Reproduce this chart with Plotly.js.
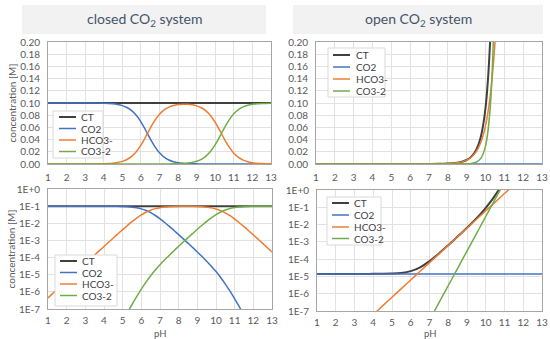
<!DOCTYPE html>
<html><head><meta charset="utf-8">
<script src="https://cdn.plot.ly/plotly-3.0.1.min.js"></script>
<style>html,body{margin:0;padding:0;background:#fff}#chart{width:550px;height:339px}</style>
</head><body><div id="chart"></div>
<script>
// ---------- data ----------
const seriesNames = ["CT", "CO2", "HCO3-", "CO3-2"];
const seriesColors = ["#404040", "#4472c4", "#ed7d31", "#70ad47"];
const panelTitles = ["closed CO<sub>2</sub> system", "open CO<sub>2</sub> system"];
const yTitle = "concentration [M]";
const xTitle = "pH";
const pHTicks = [1,2,3,4,5,6,7,8,9,10,11,12,13];
const linTickVals = [0,0.02,0.04,0.06,0.08,0.10,0.12,0.14,0.16,0.18,0.20];
const logTickVals = [1e-7,1e-6,1e-5,1e-4,1e-3,1e-2,1e-1,1];
const logTickText = ["1E-7","1E-6","1E-5","1E-4","1E-3","1E-2","1E-1","1E+0"];

// closed system
const closedPH = [1,1.5,2,2.5,3,3.5,4,4.5,4.75,5,5.25,5.5,5.75,6,6.25,6.5,6.75,7,7.25,7.5,7.75,8,
  8.25,8.5,8.75,9,9.25,9.5,9.75,10,10.25,10.5,10.75,11,11.25,11.5,11.75,12,12.25,12.5,13];
const closedCT = [0.1,0.1,0.1,0.1,0.1,0.1,0.1,0.1,0.1,0.1,0.1,0.1,0.1,0.1,0.1,0.1,0.1,0.1,0.1,0.1,0.1,0.1,
  0.1,0.1,0.1,0.1,0.1,0.1,0.1,0.1,0.1,0.1,0.1,0.1,0.1,0.1,0.1,0.1,0.1,0.1,0.1];
const closedCO2 = [0.1,0.1,0.1,0.09999,0.09996,0.09986,0.09955,0.09861,0.09755,0.09572,0.09264,0.08762,0.07992,
  0.06912,0.05573,0.04144,0.02847,0.01828,0.01117,0.0066,0.003819,0.00218,0.001233,0.000693,0.0003864,
  0.0002134,0.0001161,6.16e-5,3.151e-5,1.525e-5,6.87e-6,2.855e-6,1.097e-6,3.94e-7,1.351e-7,4.48e-8,
  1.458e-8,4.69e-9,1.496e-9,4.75e-10,4.78e-11];
const closedHCO3 = [4.47e-7,1.41e-6,4.47e-6,1.41e-5,4.47e-5,1.411e-4,4.447e-4,1.393e-3,2.45e-3,4.276e-3,
  7.359e-3,0.01238,0.02008,0.03088,0.04427,0.05855,0.07151,0.08168,0.08875,0.09327,0.09593,0.09736,
  0.09795,0.09786,0.09706,0.09533,0.09221,0.08707,0.07915,0.06813,0.05459,0.04035,0.02755,0.01762,
  0.01073,6.335e-3,3.663e-3,2.094e-3,1.188e-3,6.72e-4,2.134e-4];
const closedCO3 = [2.09e-16,2.09e-15,2.09e-14,2.09e-13,2.09e-12,2.09e-11,2.08e-10,2.06e-9,6.45e-9,2.0e-8,
  6.12e-8,1.83e-7,5.28e-7,1.44e-6,3.68e-6,8.66e-6,1.88e-5,3.82e-5,7.39e-5,1.38e-4,2.52e-4,4.56e-4,
  8.15e-4,1.447e-3,2.553e-3,4.458e-3,7.67e-3,0.01287,0.02082,0.03186,0.04541,0.05965,0.07245,0.08238,
  0.08927,0.09366,0.09634,0.09791,0.09881,0.09933,0.09979];

// open system
const openPH = [1,1.5,2,2.5,3,3.5,4,4.5,5,5.5,6,6.5,7,7.5,8,8.25,8.5,8.75,9,9.25,9.5,9.75,10,10.25,
  10.5,10.75,11,11.5,12,12.5,13];
const openCT = [1.4e-5,1.4e-5,1.4e-5,1.4e-5,1.401e-5,1.402e-5,1.406e-5,1.42e-5,1.463e-5,1.598e-5,2.025e-5,
  3.38e-5,7.65e-5,2.123e-4,6.419e-4,1.135e-3,2.021e-3,3.624e-3,6.56e-3,0.01206,0.02271,0.04443,0.0918,
  0.2037,0.4903,1.277,3.55,31.23,298.8,2945,29313];
const openCO2 = [1.4e-5,1.4e-5,1.4e-5,1.4e-5,1.4e-5,1.4e-5,1.4e-5,1.4e-5,1.4e-5,1.4e-5,1.4e-5,1.4e-5,1.4e-5,
  1.4e-5,1.4e-5,1.4e-5,1.4e-5,1.4e-5,1.4e-5,1.4e-5,1.4e-5,1.4e-5,1.4e-5,1.4e-5,1.4e-5,1.4e-5,1.4e-5,
  1.4e-5,1.4e-5,1.4e-5,1.4e-5];
const openHCO3 = [6.25e-11,1.98e-10,6.25e-10,1.98e-9,6.25e-9,1.98e-8,6.25e-8,1.98e-7,6.25e-7,1.98e-6,
  6.25e-6,1.98e-5,6.25e-5,1.98e-4,6.25e-4,1.112e-3,1.978e-3,3.517e-3,6.254e-3,0.01112,0.01978,0.03517,
  0.06254,0.1112,0.1978,0.3517,0.6254,1.978,6.254,19.78,62.54];
const openCO3 = [2.92e-20,2.92e-19,2.92e-18,2.92e-17,2.92e-16,2.92e-15,2.92e-14,2.92e-13,2.92e-12,2.92e-11,
  2.92e-10,2.92e-9,2.92e-8,2.92e-7,2.92e-6,9.25e-6,2.92e-5,9.25e-5,2.92e-4,9.25e-4,2.92e-3,9.25e-3,
  0.02925,0.0925,0.2925,0.925,2.925,29.25,292.5,2925,29250];

// ---------- layout helpers ----------
const W = 550, H = 339;
const px = x => x / W;
const py = y => 1 - y / H;
const FONT = "Lato, 'Open Sans', sans-serif";
const tickCol = "#595959";

const systems = [
  {ph: closedPH, series: [closedCT, closedCO2, closedHCO3, closedCO3], top: "", bottom: "3"},
  {ph: openPH, series: [openCT, openCO2, openHCO3, openCO3], top: "2", bottom: "4"}
];

const traces = [];
systems.forEach(sys => {
  [sys.top, sys.bottom].forEach(ax => {
    sys.series.forEach((vals, i) => {
      traces.push({
        x: sys.ph, y: vals, type: "scatter", mode: "lines",
        name: seriesNames[i], showlegend: false,
        xaxis: "x" + ax, yaxis: "y" + ax, hoverinfo: "skip",
        line: {color: seriesColors[i], width: i === 0 ? 2 : 1.5, shape: "spline"}
      });
    });
  });
});

function xAxis(domain, anchor, standoff) {
  return {
    domain: domain, anchor: anchor, range: [1, 13], tickvals: pHTicks,
    showgrid: true, gridcolor: "#e2e2e2", gridwidth: 1, zeroline: false,
    showline: true, linecolor: "#a6a6a6", linewidth: 1, mirror: true,
    ticks: "", ticklabelstandoff: standoff, tickfont: {family: FONT, size: 10, color: tickCol},
    fixedrange: true
  };
}
function yAxis(domain, anchor, log, withTitle) {
  const a = {
    domain: domain, anchor: anchor,
    showgrid: true, gridcolor: "#e2e2e2", gridwidth: 1, zeroline: false,
    showline: true, linecolor: "#a6a6a6", linewidth: 1, mirror: true,
    ticks: "", ticklabelstandoff: 5, tickfont: {family: FONT, size: 10, color: tickCol},
    fixedrange: true
  };
  if (log) {
    a.type = "log"; a.range = [-7, 0]; a.tickvals = logTickVals; a.ticktext = logTickText;
  } else {
    a.range = [0, 0.2]; a.tickvals = linTickVals; a.tickformat = ".2f";
  }
  if (withTitle) a.title = {text: yTitle, font: {family: FONT, size: 10, color: tickCol}};
  return a;
}

const shapes = [], annotations = [];
// title boxes
[[22, 266], [293, 543]].forEach((b, k) => {
  shapes.push({type: "rect", xref: "paper", yref: "paper", x0: px(b[0]), x1: px(b[1]),
    y0: py(34), y1: py(5), fillcolor: "#f2f2f2", line: {width: 0}, layer: "below"});
  annotations.push({xref: "paper", yref: "paper", x: px((b[0] + b[1]) / 2), y: py(20),
    text: panelTitles[k], showarrow: false, xanchor: "center", yanchor: "middle",
    font: {family: FONT, size: 14, color: "#44546a"}});
});
// x-axis titles of the lower panels
[[48, 272], [317, 542]].forEach(b => {
  annotations.push({xref: "paper", yref: "paper", x: px((b[0] + b[1]) / 2), y: py(333),
    text: xTitle, showarrow: false, xanchor: "center", yanchor: "middle",
    font: {family: FONT, size: 9.5, color: tickCol}});
});

// legends (one per panel)
const legends = [
  {box: [53, 103, 111, 158], rows: [117, 128.5, 140, 151.5], line: [59, 76], text: 79},
  {box: [328, 385, 48, 97], rows: [55, 67, 79, 91], line: [333, 350], text: 354},
  {box: [55, 117, 255, 306], rows: [261, 272.5, 284, 295.5], line: [60, 77], text: 80},
  {box: [327, 381, 197, 245], rows: [203, 215, 227, 238.5], line: [332, 349], text: 352}
];
legends.forEach(lg => {
  shapes.push({type: "rect", xref: "paper", yref: "paper", x0: px(lg.box[0]), x1: px(lg.box[1]),
    y0: py(lg.box[3]), y1: py(lg.box[2]), fillcolor: "#ffffff", line: {color: "#d9d9d9", width: 1}});
  seriesNames.forEach((nm, i) => {
    shapes.push({type: "line", xref: "paper", yref: "paper", x0: px(lg.line[0]), x1: px(lg.line[1]),
      y0: py(lg.rows[i]), y1: py(lg.rows[i]), line: {color: seriesColors[i], width: i === 0 ? 2 : 1.5}});
    annotations.push({xref: "paper", yref: "paper", x: px(lg.text), y: py(lg.rows[i]), text: nm,
      showarrow: false, xanchor: "left", yanchor: "middle",
      font: {family: FONT, size: 10, color: "#404040"}});
  });
});

const layout = {
  width: W, height: H, margin: {l: 0, r: 0, t: 0, b: 0},
  paper_bgcolor: "#ffffff", plot_bgcolor: "#ffffff", showlegend: false,
  xaxis: xAxis([px(48), px(271)], "y", 4),
  yaxis: yAxis([py(164), py(42)], "x", false, true),
  xaxis2: xAxis([px(316), px(542)], "y2", 4),
  yaxis2: yAxis([py(164), py(42)], "x2", false, false),
  xaxis3: xAxis([px(48), px(272)], "y3", 2),
  yaxis3: yAxis([py(309), py(189)], "x3", true, true),
  xaxis4: xAxis([px(317), px(542)], "y4", 2),
  yaxis4: yAxis([py(311), py(190)], "x4", true, false),
  shapes: shapes, annotations: annotations
};

Plotly.newPlot("chart", traces, layout, {displayModeBar: false, staticPlot: true});
</script></body></html>
